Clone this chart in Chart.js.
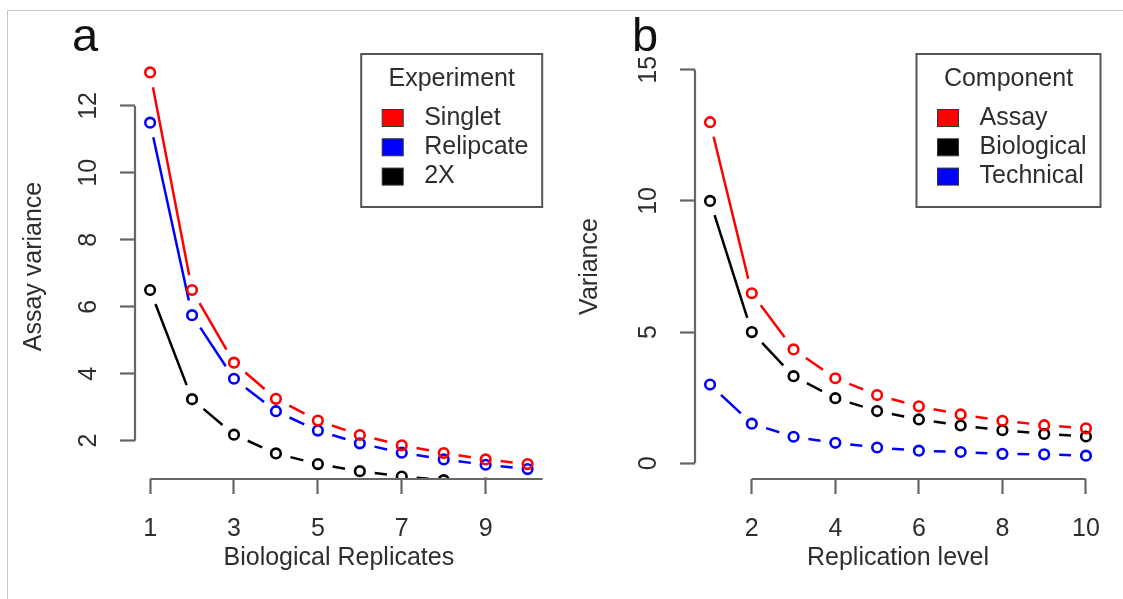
<!DOCTYPE html>
<html>
<head>
<meta charset="utf-8">
<title>Variance by replication</title>
<script src="https://cdn.jsdelivr.net/npm/chart.js@4.4.1/dist/chart.umd.min.js"></script>
<style>
  html, body { margin: 0; padding: 0; background: #fff; }
  #page { position: relative; width: 1123px; height: 599px; overflow: hidden; background: #fff; }
  #frame { position: absolute; left: 7px; top: 10px; width: 1200px; height: 700px;
           border-top: 1px solid #c8c8c8; border-left: 1px solid #c8c8c8; }
  #panel-a { position: absolute; left: 0; top: 0; }
  #panel-b { position: absolute; left: 561px; top: 0; }
</style>
</head>
<body>
<div id="page">
  <div id="frame"></div>
  <canvas id="panel-a" width="561" height="599"></canvas>
  <canvas id="panel-b" width="562" height="599"></canvas>
</div>
<script>
// ── DATA ──
const bioReplicates = [1, 2, 3, 4, 5, 6, 7, 8, 9, 10]
const singlet   = [13.0, 6.5, 4.33, 3.25, 2.6, 2.17, 1.86, 1.63, 1.44, 1.3]
const relipcate = [11.5, 5.75, 3.85, 2.88, 2.3, 1.92, 1.64, 1.44, 1.28, 1.15]
const twoX      = [6.5, 3.24, 2.18, 1.62, 1.3, 1.09, 0.93, 0.82, 0.72, 0.65]
const xTicksA = [1, 3, 5, 7, 9]
const yTicksA = [2, 4, 6, 8, 10, 12]

const replicationLevel = [1, 2, 3, 4, 5, 6, 7, 8, 9, 10]
const assay      = [13.0, 6.48, 4.34, 3.24, 2.6, 2.17, 1.86, 1.62, 1.45, 1.33]
const biological = [10.0, 5.0, 3.32, 2.48, 1.99, 1.67, 1.44, 1.26, 1.12, 1.02]
const technical  = [3.0, 1.51, 1.01, 0.78, 0.6, 0.48, 0.43, 0.36, 0.34, 0.29]
const xTicksB = [2, 4, 6, 8, 10]
const yTicksB = [0, 5, 10, 15]

// ── STYLE ──
const FAMILY = "'Liberation Sans', Arial, sans-serif"
const TEXT = '#2e2e2e'
const AXIS = '#666'
const RED = '#ff0000', BLUE = '#0000ff', BLACK = '#000000'

const pts = (xs, ys) => xs.map((x, i) => ({ x, y: ys[i] }))

function series(label, color, xs, ys) {
  return {
    label,
    data: pts(xs, ys),
    borderColor: color,
    backgroundColor: 'rgba(0,0,0,0)',
    showLine: false,
    pointStyle: 'circle',
    pointRadius: 4.8,
    pointBorderWidth: 2.6,
    clip: 0
  }
}

// ── PLUGINS ──
// R type="b": segments between points with a gap around each point
const gapLines = {
  id: 'gapLines',
  beforeDatasetsDraw(chart, args, o) {
    const { ctx, chartArea: a } = chart
    ctx.save()
    ctx.beginPath()
    ctx.rect(a.left, a.top, a.right - a.left, a.bottom - a.top)
    ctx.clip()
    ctx.lineWidth = o.width
    ctx.lineCap = 'butt'
    chart.data.datasets.forEach((ds, di) => {
      const pts = chart.getDatasetMeta(di).data
      ctx.strokeStyle = ds.borderColor
      ctx.beginPath()
      for (let i = 0; i < pts.length - 1; i++) {
        const p0 = pts[i], p1 = pts[i + 1]
        const dx = p1.x - p0.x, dy = p1.y - p0.y
        const len = Math.hypot(dx, dy)
        if (len <= 2 * o.gap) continue
        const ux = dx / len, uy = dy / len
        ctx.moveTo(p0.x + ux * o.gap, p0.y + uy * o.gap)
        ctx.lineTo(p1.x - ux * o.gap, p1.y - uy * o.gap)
      }
      ctx.stroke()
    })
    ctx.restore()
  }
}

// detached R-style axis lines + panel letter
const rAxes = {
  id: 'rAxes',
  afterDraw(chart, args, o) {
    const { ctx, chartArea: a, scales: { x, y } } = chart
    ctx.save()
    ctx.strokeStyle = AXIS
    ctx.lineWidth = 2.2
    ctx.beginPath()
    ctx.moveTo(x.getPixelForValue(o.xFrom), a.bottom)
    ctx.lineTo(x.getPixelForValue(o.xTo), a.bottom)
    ctx.moveTo(a.left, y.getPixelForValue(o.yFrom))
    ctx.lineTo(a.left, y.getPixelForValue(o.yTo))
    ctx.stroke()
    ctx.fillStyle = '#111'
    ctx.font = `47px ${FAMILY}`
    ctx.textAlign = 'left'
    ctx.textBaseline = 'alphabetic'
    ctx.fillText(o.letter, a.left - 63, a.top - 3)
    ctx.restore()
  }
}

// boxed legend with title, top-right of the plot region
const rLegend = {
  id: 'rLegend',
  afterDraw(chart, args, o) {
    const { ctx, chartArea: a } = chart
    const right = a.right - 0.5, top = a.top, h = 153
    const left = right - o.width
    ctx.save()
    ctx.fillStyle = '#fff'
    ctx.fillRect(left, top, o.width, h)
    ctx.strokeStyle = '#555'
    ctx.lineWidth = 2
    ctx.strokeRect(left, top, o.width, h)
    ctx.font = `25px ${FAMILY}`
    ctx.textBaseline = 'middle'
    ctx.textAlign = 'center'
    ctx.fillStyle = TEXT
    ctx.fillText(o.title, left + o.width / 2, top + 25)
    ctx.textAlign = 'left'
    chart.data.datasets.forEach((ds, i) => {
      const cy = top + 64 + i * 29.3
      ctx.fillStyle = ds.borderColor
      ctx.fillRect(left + 21, cy - 8.5, 21, 17)
      ctx.strokeStyle = '#333'
      ctx.lineWidth = 1
      ctx.strokeRect(left + 21, cy - 8.5, 21, 17)
      ctx.fillStyle = TEXT
      ctx.fillText(ds.label, left + 63, cy)
    })
    ctx.restore()
  }
}

// ── CHART FACTORY ──
function makePanel(id, p) {
  const tickFont = { family: FAMILY, size: 25 }
  return new Chart(document.getElementById(id), {
    type: 'scatter',
    data: { datasets: p.datasets },
    options: {
      responsive: false,
      animation: false,
      events: [],
      layout: { padding: { top: 54, left: 0, bottom: 0, right: p.padRight } },
      scales: {
        x: {
          type: 'linear',
          min: p.xMin, max: p.xMax,
          afterBuildTicks: s => { s.ticks = p.xTicks.map(v => ({ value: v })) },
          afterFit: s => { s.height = 120 },
          border: { display: false },
          grid: { display: true, drawOnChartArea: false, drawTicks: true,
                  tickLength: 15, tickWidth: 2.2, tickColor: AXIS, color: AXIS },
          ticks: { font: tickFont, color: TEXT, padding: 20.5, autoSkip: false,
                   maxRotation: 0, minRotation: 0, callback: v => String(v) },
          title: { display: true, text: p.xTitle, color: TEXT,
                   font: { family: FAMILY, size: 25 }, padding: { top: 0, bottom: 26 } }
        },
        y: {
          type: 'linear',
          min: p.yMin, max: p.yMax,
          afterBuildTicks: s => { s.ticks = p.yTicks.map(v => ({ value: v })) },
          afterFit: s => { s.width = p.yWidth },
          border: { display: false },
          grid: { display: true, drawOnChartArea: false, drawTicks: true,
                  tickLength: 15, tickWidth: 2.2, tickColor: AXIS, color: AXIS },
          ticks: { font: tickFont, color: TEXT, padding: 17, autoSkip: false,
                   minRotation: 90, maxRotation: 90, crossAlign: 'center',
                   callback: v => String(v) },
          title: { display: true, text: p.yTitle, color: TEXT,
                   font: { family: FAMILY, size: 25 }, padding: { top: p.yTitlePad, bottom: 0 } }
        }
      },
      plugins: {
        legend: { display: false },
        tooltip: { enabled: false },
        gapLines: { gap: 15, width: 2.5 },
        rAxes: p.axes,
        rLegend: p.legend
      }
    },
    plugins: [gapLines, rAxes, rLegend]
  })
}

// ── PANEL a ──
makePanel('panel-a', {
  datasets: [
    series('Singlet', RED, bioReplicates, singlet),
    series('Relipcate', BLUE, bioReplicates, relipcate),
    series('2X', BLACK, bioReplicates, twoX)
  ],
  xMin: 0.64, xMax: 10.36, xTicks: xTicksA,
  yMin: 0.855, yMax: 13.55, yTicks: yTicksA,
  xTitle: 'Biological Replicates', yTitle: 'Assay variance',
  yWidth: 135, yTitlePad: 19, padRight: 18.3,
  axes: { xFrom: 1, xTo: 10.36, yFrom: 2, yTo: 12, letter: 'a' },
  legend: { title: 'Experiment', width: 181 }
})

// ── PANEL b ──
makePanel('panel-b', {
  datasets: [
    series('Assay', RED, replicationLevel, assay),
    series('Biological', BLACK, replicationLevel, biological),
    series('Technical', BLUE, replicationLevel, technical)
  ],
  xMin: 0.64, xMax: 10.36, xTicks: xTicksB,
  yMin: -0.6, yMax: 15.6, yTicks: yTicksB,
  xTitle: 'Replication level', yTitle: 'Variance',
  yWidth: 134, yTitlePad: 14, padRight: 22,
  axes: { xFrom: 2, xTo: 10, yFrom: 0, yTo: 15, letter: 'b' },
  legend: { title: 'Component', width: 184 }
})
</script>
</body>
</html>
